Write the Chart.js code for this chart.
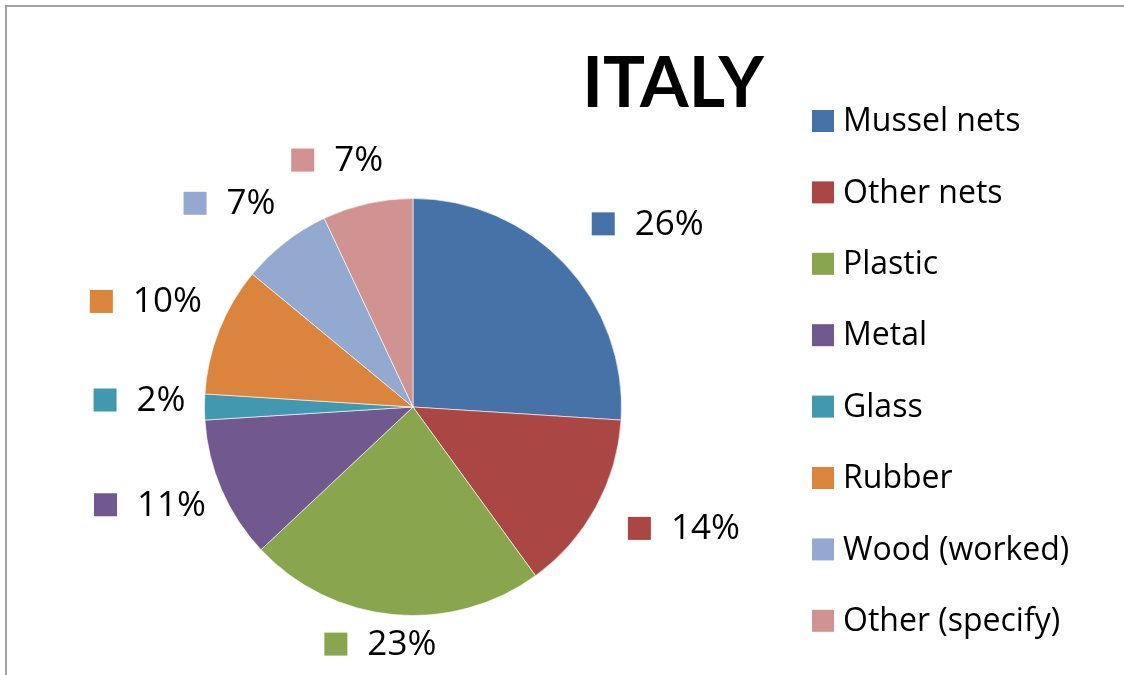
<!DOCTYPE html>
<html>
<head>
<meta charset="utf-8">
<script src="https://cdn.jsdelivr.net/npm/chart.js@4/dist/chart.umd.min.js"></script>
<style>
  html, body { margin: 0; padding: 0; background: #ffffff; }
  #wrap { width: 1124px; height: 675px; position: relative; }
</style>
</head>
<body>
<div id="wrap"><canvas id="chart" width="1124" height="675"></canvas></div>
<script>
// Litter composition, Italy (share of items, %)
const chartTitle = 'ITALY';
const categories = ['Mussel nets', 'Other nets', 'Plastic', 'Metal', 'Glass', 'Rubber', 'Wood (worked)', 'Other (specify)'];
const shares = [26, 14, 23, 11, 2, 10, 7, 7];
const sliceColors = ['#4672A8', '#AA4643', '#89A54E', '#71588F', '#4198AF', '#DB843D', '#93A9CF', '#D19392'];

const TEXT_FONT = '"Open Sans", "DejaVu Sans", sans-serif';
const TITLE_FONT = 'Lato, "Open Sans", sans-serif';

// Draws the frame, title, legend and outside value labels around the pie
const decorations = {
  id: 'decorations',
  afterDraw(chart) {
    const ctx = chart.ctx;
    ctx.save();

    // frame lines (top and left)
    ctx.strokeStyle = '#a3a3a3';
    ctx.lineWidth = 2;
    ctx.beginPath();
    ctx.moveTo(6, 675);
    ctx.lineTo(6, 6);
    ctx.lineTo(1124, 6);
    ctx.stroke();

    // title
    ctx.fillStyle = '#000000';
    ctx.font = 'bold 70px ' + TITLE_FONT;
    ctx.textAlign = 'center';
    ctx.textBaseline = 'alphabetic';
    ctx.fillText(chartTitle, 673, 107);

    // legend
    ctx.font = '32px ' + TEXT_FONT;
    ctx.textAlign = 'left';
    ctx.textBaseline = 'middle';
    categories.forEach((name, i) => {
      const cy = 121 + i * 71.4;
      ctx.fillStyle = sliceColors[i];
      ctx.fillRect(812, cy - 11, 22, 22);
      ctx.fillStyle = '#000000';
      ctx.fillText(name, 843, cy + 1);
    });

    // value labels outside each slice
    ctx.font = '35px ' + TEXT_FONT;
    const meta = chart.getDatasetMeta(0);
    const total = shares.reduce((a, b) => a + b, 0);
    const sq = 23, gap = 20, h = 26;
    const clamp = v => Math.max(-1, Math.min(1, v));
    meta.data.forEach((arc, i) => {
      const p = arc.getProps(['x', 'y', 'startAngle', 'endAngle', 'outerRadius'], true);
      const mid = (p.startAngle + p.endAngle) / 2;
      const cos = Math.cos(mid), sin = Math.sin(mid);
      const text = Math.round(shares[i] / total * 100) + '%';
      const w = sq + gap + ctx.measureText(text).width;
      const dist = 24 + 8 * Math.max(cos, 0) - 4 * Math.max(sin, 0) * Math.max(-cos, 0);
      const ax = p.x + (p.outerRadius + dist) * cos + 5;
      const ay = p.y + (p.outerRadius + dist) * sin;
      const cx = ax + (w / 2) * clamp(cos * 3);
      const cy = ay + (h / 2) * clamp(sin * 3) - 7;
      const left = cx - w / 2;
      ctx.fillStyle = sliceColors[i];
      ctx.fillRect(left, cy - sq / 2, sq, sq);
      ctx.fillStyle = '#000000';
      ctx.fillText(text, left + sq + gap, cy + 1);
    });

    ctx.restore();
  }
};

function build() {
  new Chart(document.getElementById('chart'), {
    type: 'pie',
    data: {
      labels: categories,
      datasets: [{
        data: shares,
        backgroundColor: sliceColors,
        borderColor: 'rgba(255,255,255,0.6)',
        borderWidth: 1
      }]
    },
    options: {
      responsive: false,
      animation: false,
      rotation: 0,
      layout: { padding: { left: 204, top: 198, right: 502, bottom: 59 } },
      plugins: {
        legend: { display: false },
        title: { display: false },
        tooltip: { enabled: false }
      }
    },
    plugins: [decorations]
  });
}

if (document.fonts && document.fonts.load) {
  Promise.all([
    document.fonts.load('32px "Open Sans"'),
    document.fonts.load('bold 70px Lato')
  ]).then(build, build);
} else {
  build();
}
</script>
</body>
</html>
